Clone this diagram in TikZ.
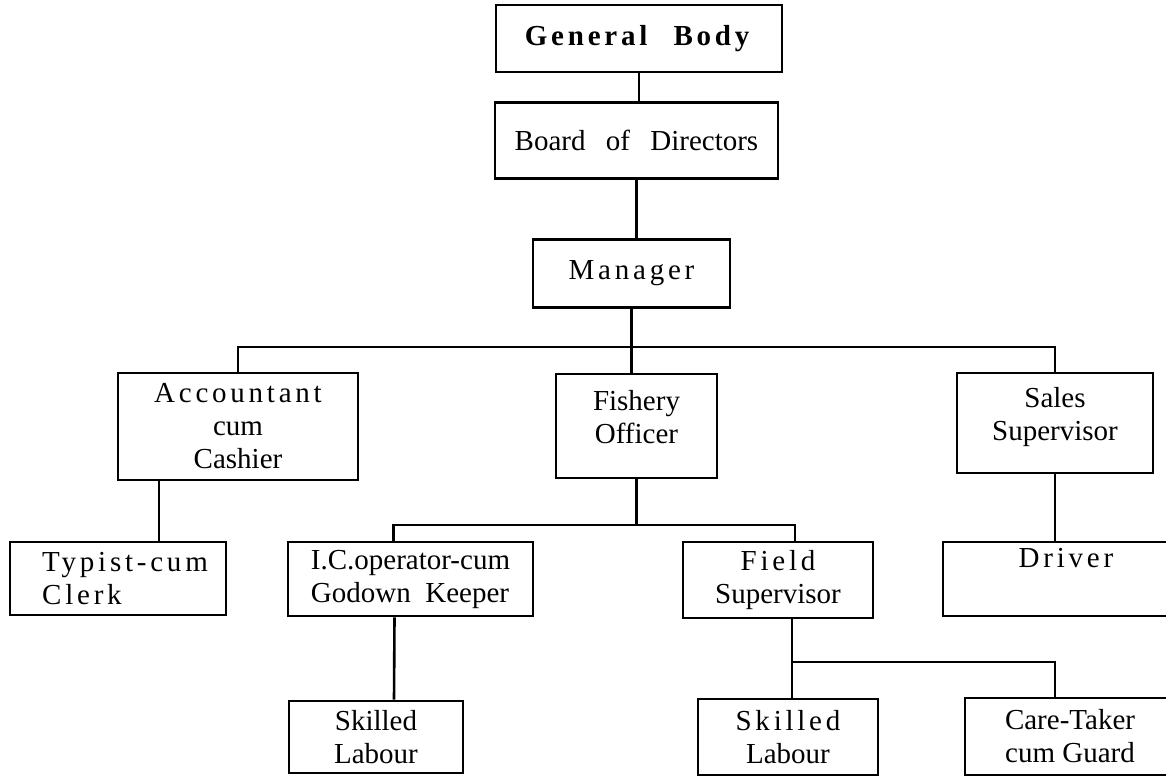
\documentclass[tikz,border=0pt]{standalone}
\usepackage{fontspec}
\setmainfont{Liberation Serif}
\usepackage{tikz}
\usetikzlibrary{positioning}
\newcommand{\spaced}[1]{{\addfontfeature{LetterSpace=13}#1}}

\begin{document}
\begin{tikzpicture}[
        x=1pt, y=-1pt,
        post/.style={rectangle, draw, line width=2.6pt, inner sep=0pt, align=center,
                     font=\fontsize{29}{33}\selectfont},
        link/.style={line width=2.6pt}
      ]
      \useasboundingbox (0,0) rectangle (1166,777);

      \node (gb) [post, minimum width=286pt, minimum height=67pt] at (639,38.5) {\textbf{\spaced{General}\hspace{0.9em}\spaced{Body}}};
      \node (board) [post, minimum width=283pt, minimum height=76pt, below=28pt of gb, xshift=-2.5pt] {Board\hspace{0.7em}of\hspace{0.7em}Directors};
      \node (mgr) [post, minimum width=197pt, minimum height=68pt, below=58pt of board, xshift=-5pt] {\spaced{Manager}};

      \node (acct) [post, minimum width=240pt, minimum height=107pt] at (238,426.5) {\spaced{Accountant}\\cum\\Cashier};
      \node (fish) [post, minimum width=161pt, minimum height=104pt] at (636.5,426) {Fishery\\Officer\\[-14pt]\mbox{}};
      \node (sales) [post, minimum width=196pt, minimum height=100pt] at (1055,423) {Sales\\Supervisor\\[-14pt]\mbox{}};

      \node (typist) [post, minimum width=216pt, minimum height=73pt, align=left] at (118,578.5) {\hspace*{14pt}\spaced{Typist-cum}\\\hspace*{14pt}\spaced{Clerk}};
      \node (ic) [post, minimum width=245pt, minimum height=74pt, align=left] at (410.5,579) {I.C.operator-cum\\Godown\hspace{0.5em}Keeper};
      \node (field) [post, minimum width=190pt, minimum height=76pt] at (778,580) {\spaced{Field}\\Supervisor};
      \node (driver) [post, minimum width=246pt, minimum height=74pt] at (1066,579) {\spaced{Driver}\\\strut};

      \node (skill1) [post, minimum width=174pt, minimum height=72pt] at (376,737) {Skilled\\Labour};
      \node (skill2) [post, minimum width=180pt, minimum height=76pt] at (788,737) {\spaced{Skilled}\\Labour};
      \node (care) [post, minimum width=210pt, minimum height=77pt] at (1070,736.5) {Care-Taker\\cum Guard};

      \coordinate (j1) at (632,347);
      \coordinate (j2) at (636.5,525);
      \coordinate (j3) at (792,662);

      \draw[link] (gb.south) -- (gb.south |- board.north);
      \draw[link] (board.south) -- (board.south |- mgr.north);
      \draw[link] (mgr.south) -- (mgr.south |- fish.north);
      \draw[link] (acct.north) |- (j1) -| (sales.north);
      \draw[link] ([xshift=-79pt]acct.south) -- ([xshift=41pt]typist.north);
      \draw[link] (fish.south) -- (j2);
      \draw[link] ([xshift=-17pt]ic.north) |- (j2) -| ([xshift=17pt]field.north);
      \draw[link] (sales.south) -- (sales.south |- driver.north);
      \draw[link] ([xshift=-16pt]ic.south) -- ([xshift=18pt]skill1.north);
      \draw[link] ([xshift=14pt]field.south) -- (j3);
      \draw[link] ([xshift=4pt]skill2.north) |- (j3) -| ([xshift=-15pt]care.north);
    \end{tikzpicture}
\end{document}
